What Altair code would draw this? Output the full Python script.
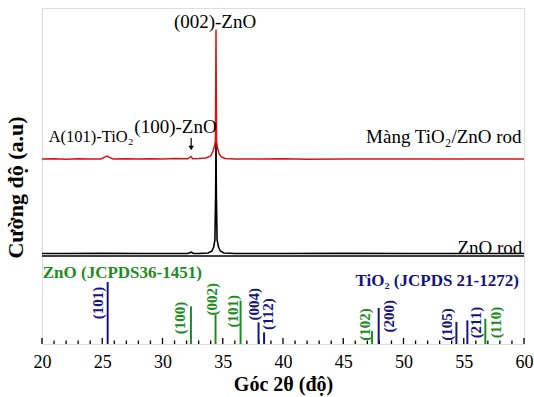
import altair as alt
import pandas as pd

# ---------------- data ----------------
# y values are in arbitrary intensity units (0 = bottom of the frame)
red_x = [20, 21, 22, 23, 24, 24.9, 25.2, 25.4, 25.6, 25.9, 27, 28, 29, 30, 31, 32.1, 32.36, 32.5,
         33, 33.6, 34.0, 34.2, 34.33, 34.39, 34.42, 34.44, 34.46, 34.49, 34.55, 34.7, 34.9, 35.2,
         36, 38, 40, 42, 45, 50, 55, 60]
red_y = [185, 185.3, 184.8, 185.2, 185, 185, 186.8, 188, 186.6, 185, 185.3, 184.9, 185.2, 185, 185.4,
         185.2, 187.5, 185.3, 185.5, 186, 188, 193, 199, 203, 260, 314.5, 260, 203, 197, 190, 187, 185.6,
         185, 185, 185.2, 184.8, 185, 185, 185, 185]

black_x = [20, 22, 25, 28, 30, 32.1, 32.36, 32.6, 33, 33.8, 34.1, 34.25, 34.35, 34.41, 34.44, 34.47,
           34.53, 34.65, 34.8, 35.1, 36, 40, 45, 50, 55, 60]
black_y = [90.5, 90.5, 90.6, 90.5, 90.5, 90.5, 91.8, 90.5, 90.5, 91, 93, 97, 104, 150, 204, 150,
           104, 97, 93, 91, 90.5, 90.5, 90.6, 90.5, 90.5, 90.5]

separator_level = [88]

zno_pos = [32.36, 34.40, 36.48, 47.39, 56.79]
zno_int = [37.6, 29.3, 43.3, 13.0, 25.3]
zno_hkl = ["(100)", "(002)", "(101)", "(102)", "(110)"]
zno_lbl_x = [31.44, 34.07, 35.86, 46.78, 57.70]
zno_lbl_y = [42.3, 61.0, 49.0, 35.7, 37.3]

tio2_pos = [25.45, 37.97, 38.43, 47.94, 54.39, 55.30]
tio2_int = [62.0, 21.6, 11.6, 36.0, 22.0, 23.6]
tio2_hkl = ["(101)", "(004)", "(112)", "(200)", "(105)", "(211)"]
tio2_lbl_x = [24.67, 37.58, 38.76, 48.80, 53.61, 56.04]
tio2_lbl_y = [57.3, 56.0, 45.7, 44.0, 35.7, 37.3]

major_ticks = [20, 25, 30, 35, 40, 45, 50, 55, 60]
minor_ticks = [21, 22, 23, 24, 26, 27, 28, 29, 31, 32, 33, 34, 36, 37, 38, 39, 41, 42, 43, 44,
               46, 47, 48, 49, 51, 52, 53, 54, 56, 57, 58, 59]

center_text = ["(002)-ZnO", "(100)-ZnO"]
center_x = [34.36, 31.08]
center_y = [322, 217.3]
left_text = ["A(101)-TiO₂"]
left_x = [20.55]
left_y = [207.3]
right_text = ["Màng TiO₂/ZnO rod", "ZnO rod"]
right_x = [59.8, 59.86]
right_y = [207, 95.7]

arrow_x = [32.38]
arrow_top = [206]
arrow_bottom = [196]

zno_title = ["ZnO (JCPDS36-1451)"]
zno_title_x = [20.06]
zno_title_y = [70.7]
tio2_title = ["TiO₂ (JCPDS 21-1272)"]
tio2_title_x = [59.58]
tio2_title_y = [63.5]

# ---------------- styling ----------------
FONT = "Liberation Serif"
GREEN = "#1e8c1e"
NAVY = "#15157f"
RED = "#e01010"

xscale = alt.Scale(domain=[20, 60], nice=False, zero=False)
yscale = alt.Scale(domain=[0, 336], nice=False, zero=False)
xaxis = alt.Axis(values=major_ticks, title="Góc 2θ (độ)", grid=False, domain=False, ticks=False,
                 tickSize=0, labelPadding=9, labelFont=FONT, labelFontSize=18, labelColor="black",
                 labelFlush=False, format="d", titleFont=FONT, titleFontSize=20, titleFontWeight="bold",
                 titleColor="black", titleY=40, titleBaseline="middle")
yaxis = alt.Axis(title="Cường độ (a.u)", labels=False, ticks=False, domain=False, grid=False,
                 titleFont=FONT, titleFontSize=22, titleFontWeight="bold", titleColor="black",
                 titleAngle=270, titleX=-27, titleY=179, titleBaseline="middle", titleAlign="center")


def X():
    return alt.X("x:Q", scale=xscale, axis=xaxis)


def Y():
    return alt.Y("y:Q", scale=yscale, axis=yaxis)


red_df = pd.DataFrame({"x": red_x, "y": red_y})
black_df = pd.DataFrame({"x": black_x, "y": black_y})

black_line = alt.Chart(black_df).mark_line(color="black", strokeWidth=1.6).encode(x=X(), y=Y())
red_line = alt.Chart(red_df).mark_line(color=RED, strokeWidth=1.5).encode(x=X(), y=Y())

sep = alt.Chart(pd.DataFrame({"y": separator_level})).mark_rule(color="black", strokeWidth=1.6).encode(y=Y())

zno_df = pd.DataFrame({"x": zno_pos, "y": [0] * len(zno_pos), "y2": zno_int})
tio2_df = pd.DataFrame({"x": tio2_pos, "y": [0] * len(tio2_pos), "y2": tio2_int})
zno_bars = alt.Chart(zno_df).mark_rule(color=GREEN, strokeWidth=2).encode(x=X(), y=Y(), y2="y2:Q")
tio2_bars = alt.Chart(tio2_df).mark_rule(color=NAVY, strokeWidth=2).encode(x=X(), y=Y(), y2="y2:Q")

lbl_kw = dict(angle=270, align="right", baseline="middle", font=FONT, fontSize=15, fontWeight="bold")
zno_lbl = alt.Chart(pd.DataFrame({"x": zno_lbl_x, "y": zno_lbl_y, "t": zno_hkl})).mark_text(
    color=GREEN, **lbl_kw).encode(x=X(), y=Y(), text="t:N")
tio2_lbl = alt.Chart(pd.DataFrame({"x": tio2_lbl_x, "y": tio2_lbl_y, "t": tio2_hkl})).mark_text(
    color=NAVY, **lbl_kw).encode(x=X(), y=Y(), text="t:N")

major_df = pd.DataFrame({"x": major_ticks, "y": [0] * len(major_ticks), "y2": [6] * len(major_ticks)})
minor_df = pd.DataFrame({"x": minor_ticks, "y": [0] * len(minor_ticks), "y2": [3.5] * len(minor_ticks)})
major_t = alt.Chart(major_df).mark_rule(color="black", strokeWidth=1.3).encode(x=X(), y=Y(), y2="y2:Q")
minor_t = alt.Chart(minor_df).mark_rule(color="black", strokeWidth=1.3).encode(x=X(), y=Y(), y2="y2:Q")

ann_kw = dict(font=FONT, fontSize=19, color="black", baseline="middle")
center_ann = alt.Chart(pd.DataFrame({"x": center_x, "y": center_y, "t": center_text})).mark_text(
    align="center", **ann_kw).encode(x=X(), y=Y(), text="t:N")
left_ann = alt.Chart(pd.DataFrame({"x": left_x, "y": left_y, "t": left_text})).mark_text(
    align="left", font=FONT, fontSize=16.5, color="black", baseline="middle").encode(x=X(), y=Y(), text="t:N")
right_ann = alt.Chart(pd.DataFrame({"x": right_x, "y": right_y, "t": right_text})).mark_text(
    align="right", **ann_kw).encode(x=X(), y=Y(), text="t:N")

arrow_df = pd.DataFrame({"x": arrow_x, "y": arrow_top, "y2": arrow_bottom})
arrow_shaft = alt.Chart(arrow_df).mark_rule(color="black", strokeWidth=1.2).encode(x=X(), y=Y(), y2="y2:Q")
arrow_head = alt.Chart(pd.DataFrame({"x": arrow_x, "y": arrow_bottom})).mark_point(
    shape="triangle-down", filled=True, color="black", size=28, opacity=1).encode(x=X(), y=Y())

ttl_kw = dict(font=FONT, fontSize=17, fontWeight="bold", baseline="middle")
zno_ttl = alt.Chart(pd.DataFrame({"x": zno_title_x, "y": zno_title_y, "t": zno_title})).mark_text(
    align="left", color=GREEN, **ttl_kw).encode(x=X(), y=Y(), text="t:N")
tio2_ttl = alt.Chart(pd.DataFrame({"x": tio2_title_x, "y": tio2_title_y, "t": tio2_title})).mark_text(
    align="right", color=NAVY, **ttl_kw).encode(x=X(), y=Y(), text="t:N")

chart = alt.layer(
    sep, major_t, minor_t, zno_bars, tio2_bars, zno_lbl, tio2_lbl, zno_ttl, tio2_ttl,
    black_line, red_line, arrow_shaft, arrow_head, center_ann, left_ann, right_ann
).properties(
    width=482, height=336,
    autosize=alt.AutoSizeParams(type="none"),
    padding={"left": 42, "top": 8, "right": 10, "bottom": 53},
    background="white",
).configure_view(stroke="black", strokeWidth=1.6).configure(font=FONT)

chart.save("out.html", embed_options={"renderer": "svg", "actions": False})
